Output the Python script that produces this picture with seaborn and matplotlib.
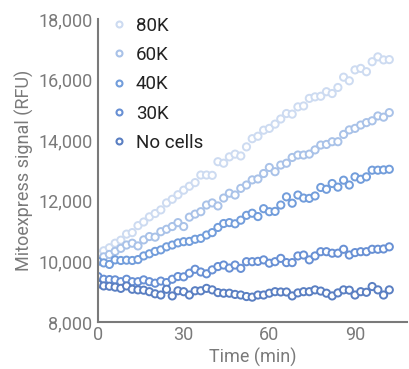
import matplotlib

matplotlib.use("Agg")
import matplotlib.pyplot as plt
from matplotlib.lines import Line2D
from matplotlib.ticker import FuncFormatter
import numpy as np
import pandas as pd
import seaborn as sns

# readings every 2 min, 0..102
time_min = list(range(0, 104, 2))

sig_80k = [10250, 10350, 10450, 10600, 10700, 10900, 10950, 11180, 11300, 11470,
           11580, 11700, 11930, 12050, 12200, 12350, 12480, 12600, 12850, 12850,
           12840, 13290, 13240, 13450, 13540, 13480, 13780, 14050, 14130, 14330,
           14390, 14530, 14700, 14880, 14860, 15100, 15130, 15380, 15430, 15450,
           15600, 15540, 15740, 16080, 15960, 16320, 16370, 16260, 16590, 16750,
           16650, 16660]
sig_60k = [10050, 10150, 10230, 10330, 10430, 10540, 10600, 10510, 10710, 10820,
           10800, 10980, 11060, 11150, 11280, 11150, 11460, 11560, 11640, 11860,
           11930, 11830, 12090, 12250, 12190, 12410, 12520, 12690, 12720, 12900,
           13100, 12960, 13180, 13240, 13430, 13510, 13510, 13540, 13680, 13840,
           13860, 13950, 13950, 14190, 14340, 14390, 14500, 14580, 14640, 14800,
           14760, 14910]
sig_40k = [10000, 9950, 9900, 10050, 10030, 10040, 10030, 10060, 10180, 10250,
           10330, 10380, 10480, 10540, 10610, 10650, 10660, 10730, 10760, 10870,
           10950, 11120, 11250, 11280, 11240, 11360, 11520, 11590, 11480, 11740,
           11640, 11650, 11860, 12130, 11920, 12190, 12090, 12080, 12160, 12440,
           12380, 12570, 12450, 12680, 12520, 12790, 12710, 12790, 13010, 13010,
           13020, 13040]
sig_30k = [9500, 9410, 9400, 9390, 9330, 9410, 9330, 9330, 9390, 9330,
           9280, 9350, 9300, 9410, 9500, 9490, 9610, 9740, 9650, 9590,
           9720, 9830, 9880, 9780, 9880, 9770, 9990, 9990, 10000, 10050,
           9940, 9990, 10100, 9960, 9960, 10180, 10210, 10050, 10180, 10320,
           10320, 10270, 10270, 10400, 10210, 10290, 10320, 10320, 10400, 10400,
           10410, 10480]
sig_nocells = [9250, 9190, 9180, 9150, 9110, 9190, 9080, 9060, 9050, 9000,
               8930, 8890, 9080, 8860, 9030, 9000, 8890, 9030, 9030, 9110,
               9060, 8970, 8950, 8950, 8910, 8890, 8840, 8820, 8890, 8890,
               8950, 9000, 8990, 8990, 8860, 8960, 9000, 9000, 9060, 9020,
               8950, 8860, 8960, 9060, 9050, 8890, 9000, 8980, 9170, 9060,
               8890, 9060]

groups = ["80K", "60K", "40K", "30K", "No cells"]
series = [sig_80k, sig_60k, sig_40k, sig_30k, sig_nocells]
colors = ["#cddbf1", "#a9c2e8", "#729ddb", "#6890d4", "#5a7fc2"]
palette = dict(zip(groups, colors))

df = pd.concat(
    [pd.DataFrame({"time": time_min, "signal": vals, "group": g}) for g, vals in zip(groups, series)],
    ignore_index=True,
)

sns.set_style("white")
plt.rcParams["font.family"] = ["Roboto", "DejaVu Sans"]

fig = plt.figure(figsize=(4.09, 3.69), dpi=100, facecolor="white")
ax = fig.add_axes([0.2396, 0.1274, 0.7555, 0.8211])

sns.scatterplot(data=df, x="time", y="signal", hue="group", palette=palette,
                s=27, legend=False, ax=ax)
# open circles: hue colour goes to the edge
for coll in ax.collections:
    fc = coll.get_facecolors()
    coll.set_edgecolors(fc)
    coll.set_facecolors("white")
    coll.set_linewidths(1.4)

ax.set_xlim(0, 108.2)
ax.set_ylim(8000, 18000)
ax.set_xticks([0, 30, 60, 90])
ax.set_yticks([8000, 10000, 12000, 14000, 16000, 18000])
ax.yaxis.set_major_formatter(FuncFormatter(lambda v, p: f"{int(v):,}"))

grey = "#7a7a7a"
for side in ["top", "right"]:
    ax.spines[side].set_visible(False)
for side in ["left", "bottom"]:
    ax.spines[side].set_color(grey)
    ax.spines[side].set_linewidth(1.5)
ax.tick_params(axis="both", length=0, labelsize=13, labelcolor=grey)
ax.tick_params(axis="y", pad=4)
ax.tick_params(axis="x", pad=3)

ax.set_xlabel("Time (min)", fontsize=13, color=grey, labelpad=3)
ax.set_ylabel("Mitoexpress signal (RFU)", fontsize=13, color=grey, labelpad=3)

handles = [Line2D([], [], ls="none", marker="o", markersize=4.3, markerfacecolor="white",
                  markeredgecolor=c, markeredgewidth=1.5) for c in colors]
leg = ax.legend(handles, groups, loc="upper left", bbox_to_anchor=(0.026, 1.026), frameon=False,
                fontsize=13.5, handlelength=0.8, handletextpad=0.5, labelspacing=0.6,
                borderaxespad=0.0, borderpad=0.3)
for t in leg.get_texts():
    t.set_color("#222222")

fig.savefig("out.png", dpi=100, facecolor="white")
